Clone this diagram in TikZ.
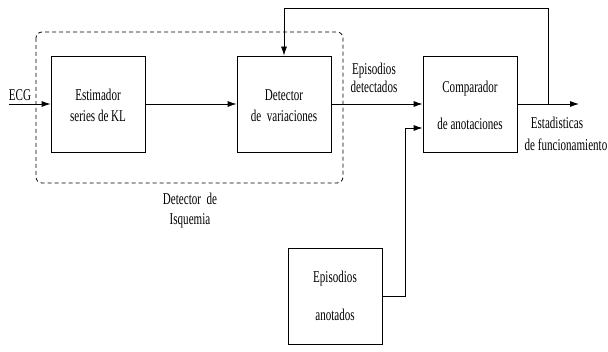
\documentclass[tikz,border=0pt]{standalone}
\usepackage{fontspec}
\setmainfont{Liberation Serif}[FakeStretch=0.67]
\usetikzlibrary{arrows.meta}
\begin{document}
\begin{tikzpicture}[x=1pt,y=-1pt,
  blk/.style={draw,line width=0.8pt,minimum width=94pt,minimum height=96pt,inner sep=0pt},
  lbl/.style={font=\fontsize{16.5}{16.5}\selectfont,inner sep=0pt,anchor=base},
  conn/.style={line width=0.8pt},
  arr/.style={conn,-{Latex[length=9pt,width=6pt]}}]
\useasboundingbox (0,0) rectangle (608,352);
% dashed group
\draw[line width=0.8pt,dash pattern=on 4pt off 3pt,rounded corners=6pt] (36,32) rectangle (343,183);
% boxes
\node[blk] (est) at (98,104) {};
\node[blk] (det) at (284,104) {};
\node[blk] (comp) at (470,104) {};
\node[blk] (epi) at (335,296) {};
% box texts
\node[lbl] (t1) at (98,100.5) {Estimador};
\node[lbl] (t2) at (98,122) {series de KL};
\node[lbl] (t3) at (284,100.5) {Detector};
\node[lbl] (t4) at (284,122) {de \ variaciones};
\node[lbl] (t5) at (470,93) {Comparador};
\node[lbl] (t6) at (470,130) {de anotaciones};
\node[lbl] (t7) at (335,283) {Episodios};
\node[lbl] (t8) at (335,321) {anotados};
% other labels
\node[lbl] (ecg) at (20,100.5) {ECG};
\node[lbl] (ed1) at (374,75) {Episodios};
\node[lbl] (ed2) at (374,93) {detectados};
\node[lbl] (es1) at (557,129) {Estadisticas};
\node[lbl] (es2) at (566,151) {de funcionamiento};
\node[lbl] (di1) at (190,205) {Detector \ de};
\node[lbl] (di2) at (190,225) {Isquemia};
% connectors
\coordinate (in) at (9,104);
\coordinate (out) at (579,104);
\coordinate (fb) at (548,104);
\coordinate (ft) at (548,8);
\coordinate (fl) at (284,8);
\coordinate (a1) at (405,296);
\coordinate (a2) at (405,128);
\draw[arr] (in) -- (est.west);
\draw[arr] (est.east) -- (det.west);
\draw[arr] (det.east) -- (comp.west);
\draw[arr] (comp.east) -- (out);
\draw[arr] (fb) -- (ft) -- (fl) -- (det.north);
\draw[arr] (epi.east |- a1) -- (a1) -- (a2) -- (comp.west |- a2);
\end{tikzpicture}
\end{document}
